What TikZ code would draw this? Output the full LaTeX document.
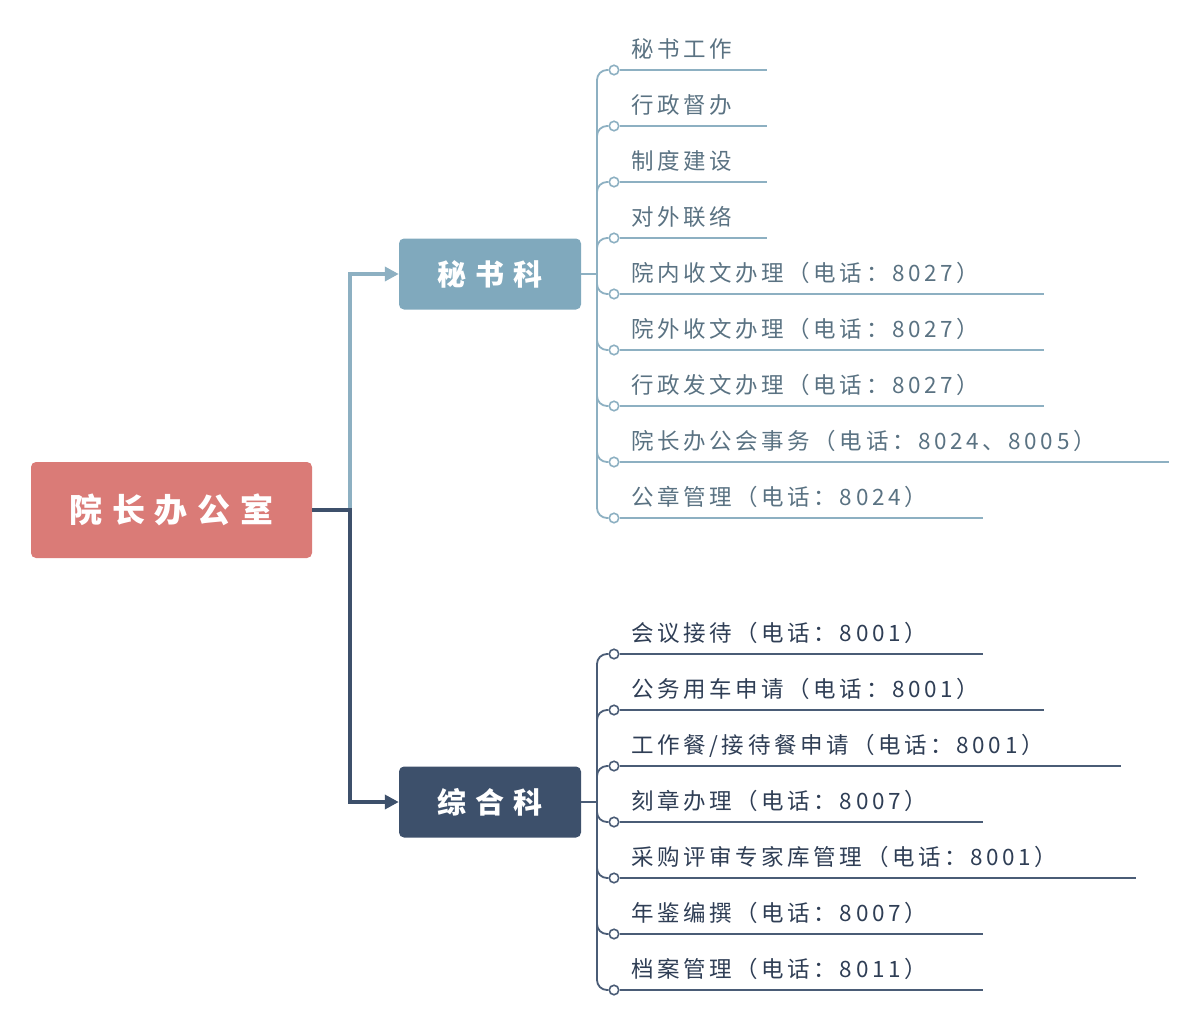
\documentclass[tikz,border=0pt]{standalone}
\usepackage{fontspec}
\usetikzlibrary{arrows.meta}
\newfontfamily\leaffont[LetterSpace=16]{Noto Sans CJK SC}
\newfontfamily\boxfont[LetterSpace=30]{Noto Sans CJK SC}
\definecolor{rootc}{HTML}{DA7B77}
\definecolor{lightc}{HTML}{80A9BD}
\definecolor{darkc}{HTML}{3D506B}
\definecolor{lightl}{HTML}{8DB0C2}
\definecolor{darkl}{HTML}{4A5C76}
\definecolor{lightt}{HTML}{5A7282}
\definecolor{darkt}{HTML}{2F3E55}
\tikzset{
  boxnode/.style={rounded corners=5pt, text=white, font=\boxfont\bfseries, inner sep=0pt, minimum height=71pt, minimum width=182pt},
  dot/.style={circle, fill=white, line width=1.6pt, minimum size=9.5pt, inner sep=0pt},
  bline/.style={line width=1.8pt},
  g1/.style={draw=lightl},
  g2/.style={draw=darkl},
  g1text/.style={text=lightt},
  g2text/.style={text=darkt},
  leaftext/.style={font=\leaffont\fontsize{22.5}{24}\selectfont, inner sep=0pt, anchor=base west},
  mainline/.style={line width=4.5pt, line join=miter, -{Triangle[length=14pt,width=14pt]}},
}
\newcommand\myleaf[6]{%
  \node[dot,#6] (#1c) at (614,#3) {};
  \coordinate (#1e) at (#4,#3);
  \draw[#6,bline] (#1c.east) -- (#1e);
  \draw[#6,bline,rounded corners=10pt] (#2) |- (#1c.west);
  \node[leaftext,#6text] (#1t) at (631,#3-13) {#5};
}
\begin{document}
\begin{tikzpicture}[x=1pt,y=-1pt]
\useasboundingbox (0,0) rectangle (1200,1026);
% main boxes
\node[boxnode, fill=rootc, minimum width=281pt, minimum height=96pt, font=\boxfont\bfseries\fontsize{33}{36}\selectfont] (root) at (171.5,510) {院长办公室};
\node[boxnode, fill=lightc, font=\boxfont\bfseries\fontsize{29}{32}\selectfont] (b1) at (490,274) {秘书科};
\node[boxnode, fill=darkc, font=\boxfont\bfseries\fontsize{29}{32}\selectfont] (b2) at (490,802) {综合科};
% main connectors
\coordinate (j) at (350,510);
\draw[mainline, draw=lightl] (j) |- (b1.west);
\draw[mainline, draw=darkc] (root.east) -- (j) |- (b2.west);
% bracket stubs
\coordinate (k1) at (597,274);
\coordinate (k2) at (597,802);
\draw[g1,bline] (b1.east) -- (k1);
\draw[g2,bline] (b2.east) -- (k2);
% group 1
\myleaf{a1}{k1}{70}{767}{秘书工作}{g1}
\myleaf{a2}{k1}{126}{767}{行政督办}{g1}
\myleaf{a3}{k1}{182}{767}{制度建设}{g1}
\myleaf{a4}{k1}{238}{767}{对外联络}{g1}
\myleaf{a5}{k1}{294}{1044}{院内收文办理（电话：8027）}{g1}
\myleaf{a6}{k1}{350}{1044}{院外收文办理（电话：8027）}{g1}
\myleaf{a7}{k1}{406}{1044}{行政发文办理（电话：8027）}{g1}
\myleaf{a8}{k1}{462}{1169}{院长办公会事务（电话：8024、8005）}{g1}
\myleaf{a9}{k1}{518}{983}{公章管理（电话：8024）}{g1}
% group 2
\myleaf{b1}{k2}{654}{983}{会议接待（电话：8001）}{g2}
\myleaf{b2}{k2}{710}{1044}{公务用车申请（电话：8001）}{g2}
\myleaf{b3}{k2}{766}{1121}{工作餐/接待餐申请（电话：8001）}{g2}
\myleaf{b4}{k2}{822}{983}{刻章办理（电话：8007）}{g2}
\myleaf{b5}{k2}{878}{1136}{采购评审专家库管理（电话：8001）}{g2}
\myleaf{b6}{k2}{934}{983}{年鉴编撰（电话：8007）}{g2}
\myleaf{b7}{k2}{990}{983}{档案管理（电话：8011）}{g2}
\end{tikzpicture}
\end{document}
